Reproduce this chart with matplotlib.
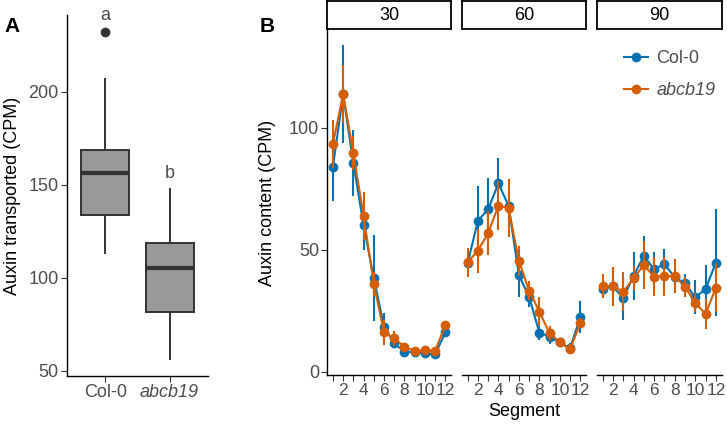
import numpy as np
import matplotlib
matplotlib.use('Agg')
import matplotlib.pyplot as plt
from matplotlib.lines import Line2D

plt.rcParams['font.family'] = ['Liberation Sans', 'DejaVu Sans']

# Panel A: box plot summaries #
genotypes = ['Col-0', 'abcb19']
box_q1 = [133.9, 81.9]
box_med = [156.3, 105.4]
box_q3 = [168.8, 118.7]
box_wlo = [113.3, 56.3]
box_whi = [207.0, 148.0]
box_out = [[232.3], []]
sig_letters = ['a', 'b']
letter_y = [241.0, 156.0]

# Panel B: auxin content per segment #
segments = np.arange(1, 13)
times = ['30', '60', '90']
col0_mean = {
    '30': [84.0, 113.7, 85.4, 60.0, 38.3, 18.4, 11.6, 8.2, 8.0, 7.6, 7.1, 16.1],
    '60': [44.4, 61.9, 66.5, 77.2, 67.9, 39.6, 30.7, 16.0, 14.3, 12.0, 9.6, 22.5],
    '90': [33.8, 35.0, 30.1, 39.2, 47.4, 42.0, 44.1, 38.7, 36.2, 30.5, 33.8, 44.7],
}
col0_err = {
    '30': [14.0, 20.0, 13.5, 10.0, 17.7, 5.5, 2.0, 1.5, 1.2, 1.5, 1.5, 1.5],
    '60': [3.0, 14.0, 13.0, 10.5, 6.0, 9.0, 4.0, 3.0, 3.0, 2.0, 2.0, 6.5],
    '90': [3.0, 8.0, 9.0, 10.0, 8.0, 7.0, 6.0, 3.0, 4.0, 7.0, 10.0, 22.0],
}
abcb19_mean = {
    '30': [93.3, 113.7, 89.5, 63.8, 35.9, 16.1, 13.7, 10.2, 8.5, 8.7, 8.5, 19.1],
    '60': [44.8, 49.6, 56.7, 68.0, 67.0, 45.4, 33.2, 24.6, 15.7, 12.0, 9.2, 20.0],
    '90': [35.1, 35.1, 32.7, 38.3, 43.7, 38.9, 39.2, 39.2, 34.8, 28.3, 23.6, 34.4],
}
abcb19_err = {
    '30': [10.0, 12.0, 7.0, 10.0, 5.0, 5.0, 3.0, 1.5, 1.5, 1.5, 1.5, 1.5],
    '60': [6.0, 9.0, 9.0, 10.0, 12.0, 6.0, 4.0, 6.0, 3.0, 2.0, 2.0, 2.0],
    '90': [5.0, 8.0, 8.0, 5.0, 10.0, 8.0, 8.0, 7.0, 4.0, 4.0, 6.0, 10.0],
}

blue = '#0072B2'
orange = '#D55E00'
tick_grey = '#4D4D4D'
fs = 13

W, H = 727, 434
fig = plt.figure(figsize=(W / 100, H / 100), dpi=100)


def px_axes(x0, y0, x1, y1):
    return fig.add_axes([x0 / W, 1 - y1 / H, (x1 - x0) / W, (y1 - y0) / H])


def classic(ax):
    for s in ['top', 'right']:
        ax.spines[s].set_visible(False)
    for s in ['left', 'bottom']:
        ax.spines[s].set_linewidth(1.0)
    ax.tick_params(length=4, width=0.8, color='#333333', labelsize=fs, labelcolor=tick_grey, pad=2)


# Panel A #
axA = px_axes(67, 15, 208, 376)
classic(axA)
stats = []
for i, g in enumerate(genotypes):
    stats.append(dict(q1=box_q1[i], med=box_med[i], q3=box_q3[i],
                      whislo=box_wlo[i], whishi=box_whi[i], fliers=box_out[i]))
axA.bxp(stats, positions=[1, 2], widths=0.75, patch_artist=True, showcaps=False,
        boxprops=dict(facecolor='#999999', edgecolor='#333333', linewidth=1.4),
        medianprops=dict(color='#333333', linewidth=3),
        whiskerprops=dict(color='#333333', linewidth=1.4),
        flierprops=dict(marker='o', markerfacecolor='#333333', markeredgecolor='#333333', markersize=6))
for i, t in enumerate(sig_letters):
    axA.text(i + 1, letter_y[i], t, ha='center', va='center', fontsize=fs, color=tick_grey)
axA.set_xlim(0.4, 2.6)
axA.set_ylim(47.3, 241.4)
axA.set_yticks([50, 100, 150, 200])
axA.set_xticks([1, 2])
axA.set_xticklabels(genotypes)
axA.get_xticklabels()[1].set_style('italic')
axA.set_ylabel('Auxin transported (CPM)', fontsize=fs, labelpad=5)
fig.text(4 / W, 1 - 27 / H, 'A', fontsize=15, fontweight='bold', va='center', ha='left')

# Panel B #
panel_x = [(327.3, 451.0), (462.0, 586.0), (597.0, 721.5)]
axes = []
for k, t in enumerate(times):
    x0, x1 = panel_x[k]
    ax = px_axes(x0, 30, x1, 375)
    classic(ax)
    ax.tick_params(axis='x', labelsize=12.5)
    ax.errorbar(segments, col0_mean[t], yerr=col0_err[t], color=blue, lw=1.5, marker='o',
                ms=6, elinewidth=1.5, capsize=0, label='Col-0', zorder=3)
    ax.errorbar(segments, abcb19_mean[t], yerr=abcb19_err[t], color=orange, lw=1.5, marker='o',
                ms=6, elinewidth=1.5, capsize=0, label='abcb19', zorder=4)
    ax.set_xlim(0.45, 12.55)
    ax.set_ylim(-1.35, 140)
    ax.set_xticks(segments)
    ax.set_xticklabels([str(s) if s % 2 == 0 else '' for s in segments])
    if k == 0:
        ax.set_yticks([0, 50, 100])
        ax.set_ylabel('Auxin content (CPM)', fontsize=fs, labelpad=9)
    else:
        ax.spines['left'].set_visible(False)
        ax.set_yticks([])
    # facet strip #
    st = px_axes(x0, 1, x1, 29)
    st.set_xticks([])
    st.set_yticks([])
    for s in st.spines.values():
        s.set_linewidth(1.3)
        s.set_color('black')
    st.text(0.5, 0.5, t, ha='center', va='center', fontsize=fs, transform=st.transAxes)
    axes.append(ax)

fig.text(524.5 / W, 1 - 412 / H, 'Segment', ha='center', va='center', fontsize=fs)
fig.text(260 / W, 1 - 27 / H, 'B', fontsize=15, fontweight='bold', va='center', ha='left')

handles = [Line2D([], [], color=blue, lw=1.5, marker='o', ms=6),
           Line2D([], [], color=orange, lw=1.5, marker='o', ms=6)]
leg = fig.legend(handles, ['Col-0', 'abcb19'], loc='upper left',
                 bbox_to_anchor=(624 / W, 1 - 50 / H), frameon=False, fontsize=fs,
                 handlelength=1.35, handletextpad=0.45, labelspacing=0.85, borderpad=0,
                 borderaxespad=0)
leg.get_texts()[1].set_style('italic')
for tx in leg.get_texts():
    tx.set_color(tick_grey)

fig.savefig('out.png', dpi=100)
